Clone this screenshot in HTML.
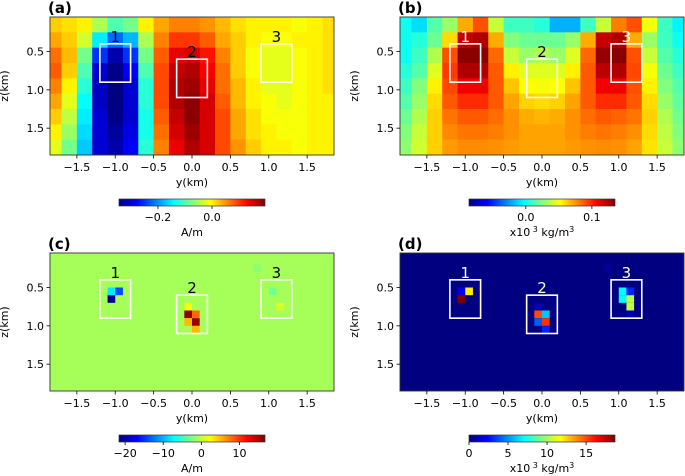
<!DOCTYPE html>
<html><head><meta charset="utf-8">
<style>
html,body{margin:0;padding:0;background:#fff;}
svg{display:block;font-family:"DejaVu Sans","Liberation Sans",sans-serif;}
</style></head>
<body>
<svg id="fig" width="685" height="476" viewBox="0 0 685 476" xmlns="http://www.w3.org/2000/svg"></svg>
<script>
// ---- data ----
const yCenters = [-1.8,-1.6,-1.4,-1.2,-1.0,-0.8,-0.6,-0.4,-0.2,0.0,0.2,0.4,0.6,0.8,1.0,1.2,1.4,1.6,1.8];
const zCenters = [0.15,0.35,0.55,0.75,0.95,1.15,1.35,1.55,1.75];
// panel a values (A/m x100)
const magRows = [
[2,1,0,-5,-10,-8,0,4,6,6,5,3,1,0,0,0,-1,0,1],
[4,2,-3,-15,-22,-18,-5,6,10,10,8,4,2,0,-1,-1,0,0,1],
[7,3,-8,-25,-32,-25,-8,8,14,15,12,6,2,-1,-2,-2,-1,0,1],
[8,2,-10,-30,-34,-28,-10,9,16,17,13,7,2,-1,-2,-2,-1,0,1],
[6,0,-12,-31,-35,-30,-12,9,17,18,14,7,3,0,-2,-2,-1,0,1],
[4,-2,-14,-31,-35,-30,-12,9,17,19,15,8,3,0,-1,-2,-1,0,0],
[2,-4,-15,-30,-34,-30,-13,8,16,19,15,9,4,1,-1,-1,-1,0,0],
[0,-6,-16,-30,-33,-29,-13,7,15,18,15,9,4,1,0,-1,-1,0,0],
[-2,-8,-17,-30,-32,-28,-12,6,14,17,15,9,5,2,0,0,-1,0,0]];
// panel b values (x10^3 kg/m3, x1000)
const denRows = [
[0,-10,15,30,70,90,40,10,10,5,-20,-20,10,40,80,90,50,10,-5],
[0,5,20,60,120,125,70,25,20,20,20,30,70,120,125,70,30,10,0],
[0,10,35,90,132,133,85,40,30,35,30,45,85,130,133,90,40,15,5],
[5,15,45,95,125,125,88,55,45,45,45,55,88,122,125,92,50,20,10],
[10,25,55,92,110,110,88,65,52,50,52,65,88,110,110,90,55,25,15],
[15,30,60,88,98,98,88,72,62,60,62,72,88,98,98,88,60,30,18],
[20,35,62,82,88,88,84,76,70,68,70,76,84,88,86,82,62,35,22],
[25,40,62,78,82,82,80,76,72,72,72,76,80,82,80,76,60,38,25],
[28,42,62,74,77,77,76,74,72,72,72,74,76,77,76,72,58,40,28]];
// panel c sparse cells
const magCellY = [-1.05,-0.95,-1.05,-0.05,-0.05,0.05,-0.05,0.05,0.05,1.05,1.15,0.85];
const magCellZ = [0.55,0.55,0.65,0.75,0.85,0.85,0.95,0.95,1.05,0.55,0.75,0.25];
const magCellV = [-8,-14,-21,2,16,8,5,16,5,-3,1,-2];
const magBackground = -1;
// panel d sparse cells
const denCellY = [-1.05,-0.95,-1.05,-0.05,-0.05,0.05,-0.05,0.05,0.05,1.05,1.05,1.15,1.15,1.15,1.15,0.85];
const denCellZ = [0.55,0.55,0.65,0.75,0.85,0.85,0.95,0.95,1.05,0.55,0.65,0.55,0.65,0.75,0.85,0.25];
const denCellV = [2,12,18.7,1,15,6,4,15.5,3,7,7,3,10.5,10.5,1,0.5];
const denBackground = 0;
const xTicks = [-1.5,-1.0,-0.5,0.0,0.5,1.0,1.5];
const xTickLabels = ["\u22121.5","\u22121.0","\u22120.5","0.0","0.5","1.0","1.5"];
const zTicks = [0.5,1.0,1.5];
const zTickLabels = ["0.5","1.0","1.5"];
const boxY0 = [-1.2,-0.2,0.9], boxY1 = [-0.8,0.2,1.3];
const boxZ0 = [0.4,0.6,0.4], boxZ1 = [0.9,1.1,0.9];
const boxLabels = ["1","2","3"];
const cbTicksA = [-0.2,0.0], cbLabelsA = ["\u22120.2","0.0"];
const cbTicksB = [0.0,0.1], cbLabelsB = ["0.0","0.1"];
const cbTicksC = [-20,-10,0,10], cbLabelsC = ["\u221220","\u221210","0","10"];
const cbTicksD = [0,5,10,15], cbLabelsD = ["0","5","10","15"];

// ---- helpers ----
const NS="http://www.w3.org/2000/svg";
const svg=document.getElementById('fig');
function mk(tag,attrs,parent){const e=document.createElementNS(NS,tag);for(const k in attrs)e.setAttribute(k,attrs[k]);(parent||svg).appendChild(e);return e;}
function cl(v){return Math.max(0,Math.min(1,v));}
function jet(t){t=cl(t);const r=cl(1.5-Math.abs(4*t-3)),g=cl(1.5-Math.abs(4*t-2)),b=cl(1.5-Math.abs(4*t-1));
 return `rgb(${Math.round(r*255)},${Math.round(g*255)},${Math.round(b*255)})`;}

function panel(p){
  const g=mk('g',{});
  
  
  const X=y=>p.l+(y+1.85)/3.7*(p.r-p.l);
  const Z=z=>p.t+(z-0.05)/1.8*(p.b-p.t);
  const norm=v=>(v-p.vmin)/(p.vmax-p.vmin);
  const cid='clip'+p.id;
  const cp=mk('clipPath',{id:cid},g);mk('rect',{x:p.l,y:p.t,width:p.r-p.l,height:p.b-p.t},cp);
  const hm=mk('g',{'clip-path':`url(#${cid})`},g);
  
  
  if(p.rows){
    p.rows.forEach((row,i)=>row.forEach((v,j)=>{
      const x0=X(yCenters[j]-0.1),x1=X(yCenters[j]+0.1),z0=Z(zCenters[i]-0.1),z1=Z(zCenters[i]+0.1);
      const c=mk('rect',{x:x0,y:z0,width:x1-x0+0.4,height:z1-z0+0.4,fill:jet(norm(v*p.scale))},hm);
      
      
    }));
  } else {
    mk('rect',{x:p.l,y:p.t,width:p.r-p.l,height:p.b-p.t,fill:jet(norm(p.bg))},hm);
    p.cy.forEach((y,k)=>{
      const x0=X(y-0.05),x1=X(y+0.05),z0=Z(p.cz[k]-0.05),z1=Z(p.cz[k]+0.05);
      const c=mk('rect',{x:x0,y:z0,width:x1-x0,height:z1-z0,fill:jet(norm(p.cv[k]))},hm);
      
      
    });
  }
  boxLabels.forEach((lab,k)=>{
    const bx=mk('rect',{x:X(boxY0[k]),y:Z(boxZ0[k]),width:X(boxY1[k])-X(boxY0[k]),height:Z(boxZ1[k])-Z(boxZ0[k]),fill:'none',stroke:'#fff','stroke-width':1.6},g);
    
    
    const t=mk('text',{x:(X(boxY0[k])+X(boxY1[k]))/2,y:Z(boxZ0[k])-2,'text-anchor':'middle','font-size':15,fill:p.labCol[k]},g);
    t.textContent=lab;
    
    
  });
  mk('rect',{x:p.l,y:p.t,width:p.r-p.l,height:p.b-p.t,fill:'none',stroke:'#333','stroke-width':0.9},g);
  xTicks.forEach((v,k)=>{
    mk('line',{x1:X(v),x2:X(v),y1:p.b,y2:p.b+3.5,stroke:'#000','stroke-width':0.8},g);
    const t=mk('text',{x:X(v),y:p.b+16,'text-anchor':'middle','font-size':11},g);t.textContent=xTickLabels[k];
    
    
  });
  const xl=mk('text',{x:(p.l+p.r)/2,y:p.b+31,'text-anchor':'middle','font-size':11},g);xl.textContent='y(km)';
  
  
  zTicks.forEach((v,k)=>{
    mk('line',{x1:p.l-3.5,x2:p.l,y1:Z(v),y2:Z(v),stroke:'#000','stroke-width':0.8},g);
    const t=mk('text',{x:p.l-6,y:Z(v)+4,'text-anchor':'end','font-size':11},g);t.textContent=zTickLabels[k];
    
    
  });
  const zx=p.l-42, zy=(p.t+p.b)/2;
  const zl=mk('text',{x:zx,y:zy,'text-anchor':'middle','font-size':11,transform:`rotate(-90 ${zx} ${zy})`},g);zl.textContent='z(km)';
  
  
  const pl=mk('text',{x:p.l-2,y:p.t-4,'font-size':15,'font-weight':'bold'},g);pl.textContent=p.tag;
  
  
  const gid='grad'+p.id;
  const lg=mk('linearGradient',{id:gid,x1:0,x2:1,y1:0,y2:0},g);
  for(let i=0;i<=16;i++){mk('stop',{offset:i/16,'stop-color':jet(i/16)},lg);}
  const cbY=p.b+44, cbL=p.cbl, cbR=p.cbl+146;
  const cb=mk('rect',{x:cbL,y:cbY,width:cbR-cbL,height:7,fill:`url(#${gid})`,stroke:'#333','stroke-width':0.7},g);
  
  
  const C=v=>cbL+norm(v)*(cbR-cbL);
  p.cbTicks.forEach((v,k)=>{
    mk('line',{x1:C(v),x2:C(v),y1:cbY+7,y2:cbY+10,stroke:'#000','stroke-width':0.8},g);
    const t=mk('text',{x:C(v),y:cbY+22,'text-anchor':'middle','font-size':11},g);t.textContent=p.cbLabels[k];
    
    
  });
  const ul=mk('text',{x:(cbL+cbR)/2,y:cbY+37,'text-anchor':'middle','font-size':11},g);
  ul.innerHTML=p.unit;
  
  
}
const denUnit='x10<tspan dy="-4" font-size="8"> 3</tspan><tspan dy="4"> kg/m</tspan><tspan dy="-4" font-size="8">3</tspan>';
panel({id:'a',name:'panel-a',tag:'(a)',l:50,r:334,t:17,b:155,rows:magRows,scale:0.01,vmin:-0.344,vmax:0.196,
  labCol:['#000','#000','#000'],cbl:119,cbTicks:cbTicksA,cbLabels:cbLabelsA,unit:'A/m'});
panel({id:'b',name:'panel-b',tag:'(b)',l:400,r:684,t:17,b:155,rows:denRows,scale:0.001,vmin:-0.086,vmax:0.135,
  labCol:['#fff','#000','#fff'],cbl:469,cbTicks:cbTicksB,cbLabels:cbLabelsB,unit:denUnit});
panel({id:'c',name:'panel-c',tag:'(c)',l:50,r:334,t:253,b:391,cy:magCellY,cz:magCellZ,cv:magCellV,bg:magBackground,vmin:-21.6,vmax:16.7,
  labCol:['#000','#000','#000'],cbl:119,cbTicks:cbTicksC,cbLabels:cbLabelsC,unit:'A/m'});
panel({id:'d',name:'panel-d',tag:'(d)',l:400,r:684,t:253,b:391,cy:denCellY,cz:denCellZ,cv:denCellV,bg:denBackground,vmin:0,vmax:18.7,
  labCol:['#fff','#fff','#fff'],cbl:469,cbTicks:cbTicksD,cbLabels:cbLabelsD,unit:denUnit});
</script>
</body></html>
